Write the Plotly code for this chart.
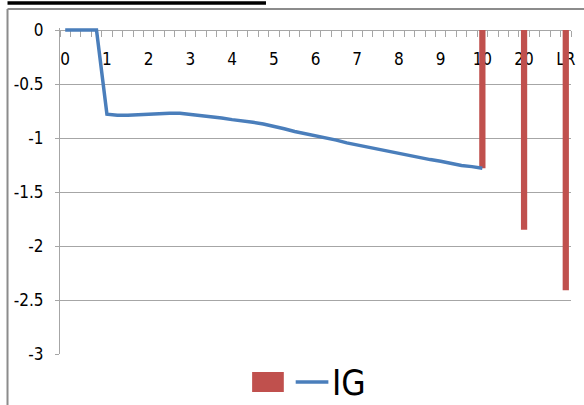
import plotly.graph_objects as go

# ---- data ----
# category index positions (4 steps per unit from 0 to 10, then 20 and LR)
x_index = list(range(49))
tick_labels = ["0", "1", "2", "3", "4", "5", "6", "7", "8", "9", "10", "20", "LR"]
tick_positions = [0, 4, 8, 12, 16, 20, 24, 28, 32, 36, 40, 44, 48]

ig_line = [0, 0, 0, 0,
           -0.78, -0.79, -0.79, -0.785,
           -0.775, -0.77, -0.77, -0.77,
           -0.78, -0.79, -0.80, -0.815,
           -0.83, -0.84, -0.855, -0.87,
           -0.89, -0.915, -0.94, -0.96,
           -0.975, -0.995, -1.02, -1.045,
           -1.065, -1.085, -1.105, -1.12,
           -1.14, -1.16, -1.18, -1.20,
           -1.215, -1.235, -1.255, -1.265,
           -1.28]
bar_x = [40, 44, 48]
bar_values = [-1.28, -1.85, -2.41]

y_ticks = [0, -0.5, -1, -1.5, -2, -2.5, -3]
y_tick_text = ["0", "-0.5", "-1", "-1.5", "-2", "-2.5", "-3"]

# ---- styling ----
W, H = 584, 405
ML, MR, MT, MB = 60, 8, 28, 51
PW, PH = W - ML - MR, H - MT - MB
Y_TOP = 0.0185  # small headroom so the line at 0 is not clipped
FONT = "DejaVu Sans Condensed, Roboto Condensed, Roboto, sans-serif"
GRID = "#a6a6a6"
BLUE = "#4a7ebb"
RED = "#c0504d"


def px(x):
    return (x - ML) / PW


def py(y):
    return (H - MB - y) / PH


fig = go.Figure()
fig.add_trace(go.Bar(x=bar_x, y=bar_values, width=0.6, marker=dict(color=RED, line=dict(width=0)),
                     name="", showlegend=False))
fig.add_trace(go.Scatter(x=x_index[:len(ig_line)], y=ig_line, mode="lines",
                         line=dict(color=BLUE, width=3.5), name="IG", showlegend=False))

fig.update_layout(
    width=W, height=H,
    margin=dict(l=ML, r=MR, t=MT, b=MB, pad=0),
    paper_bgcolor="white", plot_bgcolor="white",
    font=dict(family=FONT, size=17, color="#000000"),
    showlegend=False,
    xaxis=dict(range=[-0.5, 48.5], anchor="free", position=3 / (3 + Y_TOP), side="bottom",
               layer="below traces",
               showline=True, linecolor=GRID, linewidth=1, showgrid=False, zeroline=False,
               tickmode="array", tickvals=tick_positions, ticktext=tick_labels,
               ticks="", ticklabelstandoff=14,
               minor=dict(ticks="outside", ticklen=6, tickcolor=GRID, tickwidth=1,
                          tickmode="linear", tick0=-0.5, dtick=1, showgrid=False)),
    yaxis=dict(range=[-3, Y_TOP], tickmode="array", tickvals=y_ticks, ticktext=y_tick_text,
               layer="below traces",
               showgrid=True, gridcolor=GRID, gridwidth=1, zeroline=False,
               showline=True, linecolor=GRID, linewidth=1,
               ticks="outside", ticklen=4, tickcolor=GRID, ticklabelstandoff=8),
)

shapes = [
    # chart border (top & left)
    dict(type="line", xref="paper", yref="paper", x0=px(7), x1=px(590), y0=py(9), y1=py(9),
         line=dict(color="#8c8c8c", width=2)),
    dict(type="line", xref="paper", yref="paper", x0=px(7), x1=px(7), y0=py(9), y1=py(410),
         line=dict(color="#8c8c8c", width=2)),
    # title underline fragment
    dict(type="line", xref="paper", yref="paper", x0=px(7), x1=px(268), y0=py(3), y1=py(3),
         line=dict(color="#000000", width=3.5)),
    # legend symbols
    dict(type="rect", xref="paper", yref="paper", x0=px(254), x1=px(286), y0=py(372), y1=py(392),
         fillcolor=RED, line=dict(width=0)),
    dict(type="line", xref="paper", yref="paper", x0=px(298), x1=px(331), y0=py(382), y1=py(382),
         line=dict(color=BLUE, width=3.5)),
]
fig.update_layout(shapes=shapes)
fig.add_annotation(xref="paper", yref="paper", x=px(333), y=py(383), xanchor="left", yanchor="middle",
                   text="IG", showarrow=False, font=dict(family=FONT, size=35, color="#000000"))

fig.write_html("out.html")
